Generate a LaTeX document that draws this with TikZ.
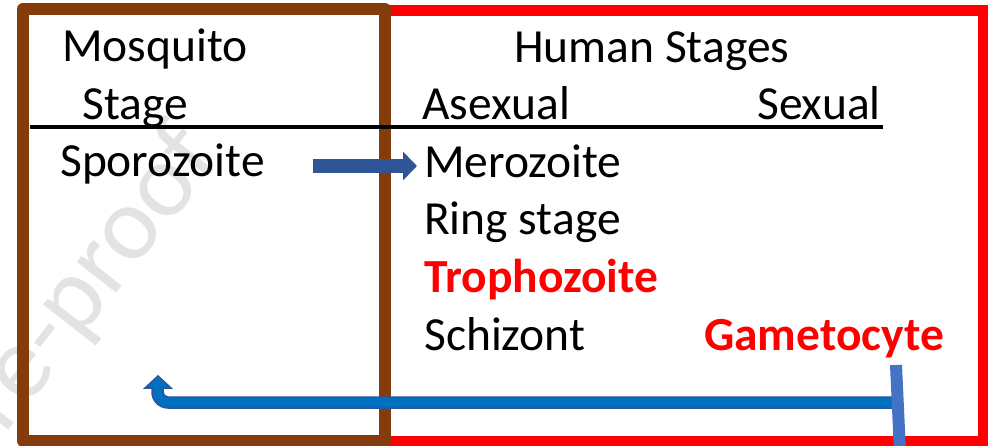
\documentclass[tikz,border=0pt]{standalone}
\usepackage{fontspec}
\setmainfont{Carlito}
\usetikzlibrary{arrows.meta}
\definecolor{brownbox}{HTML}{843C0C}
\definecolor{redbox}{HTML}{FF0000}
\definecolor{darkblue}{HTML}{2F5597}
\definecolor{midblue}{HTML}{0070C0}
\definecolor{steelblue}{HTML}{4472C4}
\definecolor{wmgray}{HTML}{E3E3E3}
\tikzset{
  lbl/.style={anchor=base west, inner sep=0pt, font=\fontsize{47.5}{50}\selectfont},
  redlbl/.style={anchor=base west, inner sep=0pt, text=redbox, font=\fontsize{47.5}{50}\selectfont\bfseries},
  boxline/.style={line width=12pt, line join=round},
  blockarrow/.style={darkblue, line width=14pt, -{Triangle[length=14pt,width=28pt]}},
  returnarrow/.style={fill=midblue, draw=darkblue, line width=1.5pt},
  feedline/.style={steelblue, line width=12pt}
}
\begin{document}
\begin{tikzpicture}[x=1pt,y=-1pt]
\useasboundingbox (0,0) rectangle (988,446);
\begin{scope}
\clip (0,0) rectangle (988,446);
% watermark
\node[anchor=base east, inner sep=0pt, rotate=52, text=wmgray, font=\fontsize{105}{110}\selectfont] (wm) at (222,158) {Journal Pre-proof};
% boxes
\draw[redbox, line width=11pt] (385,10.5) rectangle (983,441.5);
\draw[brownbox, boxline] (23,9) rectangle (385,441);
\draw[black, line width=3.5pt] (30,127) -- (883,127);
% texts
\node[lbl] (mosq) at (62,62) {Mosquito};
\node[lbl] (stage) at (82,120) {Stage};
\node[lbl] (human) at (514,63) {Human Stages};
\node[lbl] (asex) at (422,120) {Asexual};
\node[lbl] (sex) at (757,120) {Sexual};
\node[lbl] (spor) at (60,177) {Sporozoite};
\node[lbl] (mero) at (424,178) {Merozoite};
\node[lbl] (ring) at (424,235) {Ring stage};
\node[redlbl] (troph) at (424,293) {Trophozoite};
\node[lbl] (schiz) at (424,351) {Schizont};
\node[redlbl] (gamet) at (704,351) {Gametocyte};
% arrow sporozoite -> merozoite
\coordinate (a1) at (313,166);
\draw[blockarrow] (a1) -- ([xshift=-7pt]mero.west |- a1);
% return arrow gametocyte -> mosquito
\coordinate (r0) at (893,397);
\path[returnarrow] (r0) -- (168,397)
  .. controls (165.24,397) and (163,394.76) .. (163,392)
  -- (163,388) -- (171,388) -- (158,376) -- (145,388) -- (152,388) -- (152,392)
  .. controls (152,400.84) and (159.16,408) .. (168,408)
  -- (893,408) -- cycle;
\coordinate (f0) at (896,365);
\coordinate (f1) at (900,452);
\draw[feedline] (f0) -- (f1);
\end{scope}
\end{tikzpicture}
\end{document}
